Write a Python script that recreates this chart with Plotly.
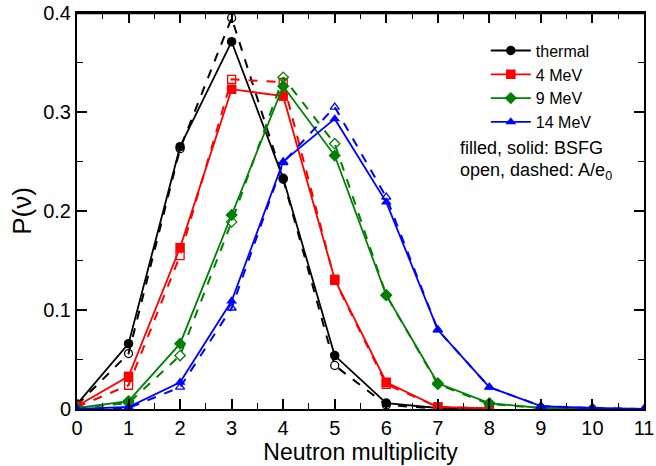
import plotly.graph_objects as go

nu = [0, 1, 2, 3, 4, 5, 6, 7, 8, 9, 10, 11]

thermal_bsfg = [0.005, 0.066, 0.265, 0.371, 0.233, 0.054, 0.006, 0.001, 0.0]
thermal_ae0 = [0.004, 0.056, 0.263, 0.395, 0.232, 0.044, 0.004, 0.0005, 0.0]
mev4_bsfg = [0.003, 0.033, 0.163, 0.323, 0.316, 0.131, 0.027, 0.002, 0.0005]
mev4_ae0 = [0.002, 0.024, 0.155, 0.333, 0.330, 0.130, 0.025, 0.002, 0.0005]
mev9_bsfg = [0.001, 0.008, 0.066, 0.196, 0.326, 0.256, 0.115, 0.026, 0.006, 0.001, 0.0]
mev9_ae0 = [0.001, 0.006, 0.054, 0.189, 0.335, 0.268, 0.115, 0.025, 0.005, 0.001, 0.0]
mev14_bsfg = [0.0, 0.002, 0.027, 0.109, 0.250, 0.293, 0.209, 0.080, 0.022, 0.003, 0.001, 0.0]
mev14_ae0 = [0.0, 0.001, 0.022, 0.102, 0.249, 0.305, 0.214, 0.080, 0.022, 0.003, 0.001, 0.0]

series = [
    ("thermal", "black", "circle", thermal_bsfg, thermal_ae0),
    ("4 MeV", "red", "square", mev4_bsfg, mev4_ae0),
    ("9 MeV", "green", "diamond", mev9_bsfg, mev9_ae0),
    ("14 MeV", "blue", "triangle-up", mev14_bsfg, mev14_ae0),
]

font = "Liberation Sans, Arial, sans-serif"
fig = go.Figure()
for name, col, sym, solid, dashed in series:
    fig.add_trace(go.Scatter(
        x=nu[:len(dashed)], y=dashed, mode="lines+markers", showlegend=False,
        line=dict(color=col, width=2, dash="dash"),
        marker=dict(symbol=sym + "-open", size=8, color=col, line=dict(width=1.3, color=col)),
    ))
    fig.add_trace(go.Scatter(
        x=nu[:len(solid)], y=solid, mode="lines+markers", name=name,
        line=dict(color=col, width=1.8),
        marker=dict(symbol=sym, size=9.5, color=col),
    ))

axis_common = dict(
    showline=True, linecolor="black", linewidth=2, mirror="allticks",
    ticks="inside", ticklen=10, tickwidth=1.5, tickcolor="black",
    showgrid=False, zeroline=False, automargin=False, ticklabeloverflow="allow",
)
fig.update_xaxes(
    range=[0, 11], tickvals=nu, ticktext=[str(v) for v in nu],
    tickfont=dict(family=font, size=20, color="black"),
    minor=dict(dtick=0.5, ticks="inside", ticklen=6, tickwidth=1.2, tickcolor="black"),
    title=dict(text="Neutron multiplicity", font=dict(family=font, size=23, color="black"), standoff=2),
    **axis_common,
)
fig.update_yaxes(
    range=[0, 0.4], tickvals=[0, 0.1, 0.2, 0.3, 0.4], ticktext=["0", "0.1", "0.2", "0.3", "0.4"],
    tickfont=dict(family=font, size=20, color="black"),
    minor=dict(dtick=0.05, ticks="inside", ticklen=6, tickwidth=1.2, tickcolor="black"),
    title=dict(text="P(ν)", font=dict(family=font, size=26, color="black"), standoff=4),
    **axis_common,
)

fig.update_layout(
    width=656, height=466,
    margin=dict(l=77, r=12, t=13, b=57),
    plot_bgcolor="white", paper_bgcolor="white",
    font=dict(family=font, color="black"),
    legend=dict(x=0.721, y=0.948, xanchor="left", yanchor="top",
                font=dict(family=font, size=16), bgcolor="rgba(0,0,0,0)",
                tracegroupgap=0, itemwidth=40),
    shapes=[dict(type="line", xref="paper", yref="paper", x0=0, x1=1, y0=1, y1=1,
                 line=dict(color="black", width=2.5), layer="above")],
    annotations=[
        dict(text="filled, solid: BSFG", xref="paper", yref="paper", x=0.672, y=0.659,
             xanchor="left", yanchor="middle", showarrow=False, font=dict(family=font, size=18)),
        dict(text="open, dashed: A/e<sub>0</sub>", xref="paper", yref="paper", x=0.672, y=0.600,
             xanchor="left", yanchor="middle", showarrow=False, font=dict(family=font, size=18)),
    ],
)

fig.write_html("out.html", config={"displayModeBar": False},
               post_script="document.body.style.margin='0';document.body.style.overflow='hidden';")
